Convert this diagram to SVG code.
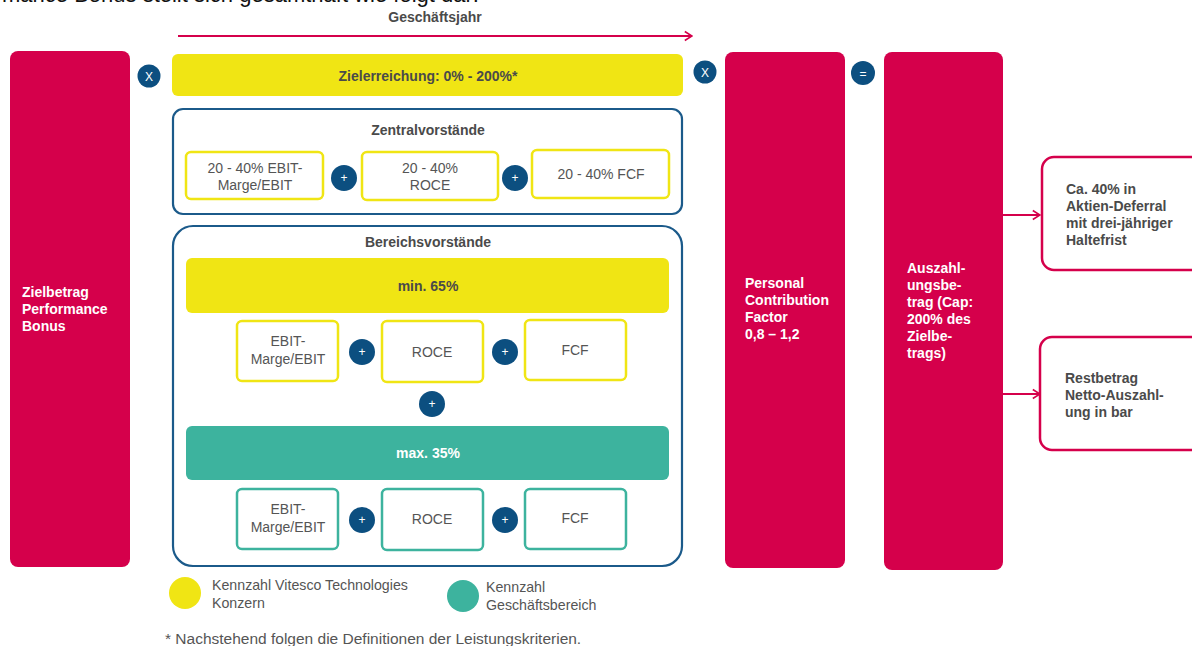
<svg xmlns="http://www.w3.org/2000/svg" width="1192" height="646" viewBox="0 0 1192 646">
<defs>
<style>
.red{fill:#D5004B}
.wt{fill:#fff;font-family:"Liberation Sans",Arial,sans-serif;font-weight:bold;font-size:14px}
.gb{fill:#4a4a4a;font-family:"Liberation Sans",Arial,sans-serif;font-weight:bold;font-size:14px}
.gr{fill:#555;font-family:"Liberation Sans",Arial,sans-serif;font-size:14px}
.op{fill:#0C4F80}
.opt{fill:#fff;font-family:"Liberation Sans",Arial,sans-serif;font-size:12px;text-anchor:middle}
.yb{fill:#fff;stroke:#F0E514;stroke-width:2.5}
.tb{fill:#fff;stroke:#3DB39E;stroke-width:2.5}
.frame{fill:#fff;stroke:#1B5A8A;stroke-width:2.2}
.out{fill:#fff;stroke:#D5004B;stroke-width:2.5}
.c{text-anchor:middle}
.conn{stroke:#D5004B;stroke-width:2;fill:none}
</style>
<marker id="ah" viewBox="0 0 10 12" refX="9" refY="6" markerWidth="9" markerHeight="12" markerUnits="userSpaceOnUse" orient="auto">
<path d="M1,1 L9,6 L1,11" fill="none" stroke="#D5004B" stroke-width="1.8"/>
</marker>
</defs>
<rect width="1192" height="646" fill="#fff"/>
<text x="2" y="2" font-family="'Liberation Sans',Arial,sans-serif" font-size="22" fill="#111">mance Bonus stellt sich gesamthaft wie folgt dar:</text>

<g id="timeline">
<text x="435" y="22" class="gb c">Geschäftsjahr</text>
</g>

<g id="connectors">
<line x1="178" y1="36" x2="692" y2="36" class="conn" marker-end="url(#ah)"/>
<line x1="1003" y1="215" x2="1040" y2="215" class="conn" marker-end="url(#ah)"/>
<line x1="1003" y1="394" x2="1040" y2="394" class="conn" marker-end="url(#ah)"/>
</g>

<g id="zielbetrag">
<rect x="10" y="51" width="120" height="516" rx="8" class="red"/>
<text class="wt" x="22" y="297">Zielbetrag</text>
<text class="wt" x="22" y="314">Performance</text>
<text class="wt" x="22" y="331">Bonus</text>
</g>

<g id="op-x1">
<circle cx="149" cy="76" r="11.5" class="op"/>
<text x="149" y="80.5" class="opt">X</text>
</g>

<g id="zielerreichung">
<rect x="172" y="54" width="511" height="42" rx="6" fill="#F0E514"/>
<text x="428" y="80.5" class="gb c">Zielerreichung: 0% - 200%*</text>
</g>

<g id="op-x2">
<circle cx="705" cy="72" r="11.5" class="op"/>
<text x="705" y="76.5" class="opt">X</text>
</g>

<g id="zentral">
<rect x="173" y="109" width="509" height="105" rx="10" class="frame"/>
<text x="428" y="135" class="gb c">Zentralvorstände</text>
<rect x="186" y="152" width="137" height="47" rx="5" class="yb"/>
<text x="255" y="173" class="gr c">20 - 40% EBIT-</text>
<text x="255" y="190" class="gr c">Marge/EBIT</text>
<circle cx="344" cy="178" r="13" class="op"/>
<text x="344" y="182" class="opt">+</text>
<rect x="362" y="152" width="136" height="48" rx="5" class="yb"/>
<text x="430" y="173" class="gr c">20 - 40%</text>
<text x="430" y="190" class="gr c">ROCE</text>
<circle cx="515" cy="178" r="13" class="op"/>
<text x="515" y="182" class="opt">+</text>
<rect x="532" y="150" width="137" height="48" rx="5" class="yb"/>
<text x="601" y="179" class="gr c">20 - 40% FCF</text>
</g>

<g id="bereich">
<rect x="173" y="226" width="509" height="340" rx="20" class="frame"/>
<text x="428" y="247" class="gb c">Bereichsvorstände</text>
<rect x="186" y="258" width="483" height="55" rx="6" fill="#F0E514"/>
<text x="428" y="291" class="gb c">min. 65%</text>
<rect x="237" y="321" width="101" height="60" rx="5" class="yb"/>
<text x="288" y="346" class="gr c">EBIT-</text>
<text x="288" y="364" class="gr c">Marge/EBIT</text>
<circle cx="362" cy="352" r="13" class="op"/>
<text x="362" y="356" class="opt">+</text>
<rect x="382" y="321" width="101" height="61" rx="5" class="yb"/>
<text x="432" y="357" class="gr c">ROCE</text>
<circle cx="505" cy="352" r="13" class="op"/>
<text x="505" y="356" class="opt">+</text>
<rect x="525" y="320" width="101" height="60" rx="5" class="yb"/>
<text x="575" y="355" class="gr c">FCF</text>
<circle cx="432" cy="404" r="13" class="op"/>
<text x="432" y="408" class="opt">+</text>
<rect x="186" y="426" width="483" height="54" rx="6" fill="#3DB39E"/>
<text x="428" y="458" class="wt c">max. 35%</text>
<rect x="237" y="489" width="101" height="60" rx="5" class="tb"/>
<text x="288" y="514" class="gr c">EBIT-</text>
<text x="288" y="532" class="gr c">Marge/EBIT</text>
<circle cx="362" cy="520" r="13" class="op"/>
<text x="362" y="524" class="opt">+</text>
<rect x="382" y="489" width="101" height="61" rx="5" class="tb"/>
<text x="432" y="524" class="gr c">ROCE</text>
<circle cx="505" cy="520" r="13" class="op"/>
<text x="505" y="524" class="opt">+</text>
<rect x="525" y="489" width="101" height="60" rx="5" class="tb"/>
<text x="575" y="523" class="gr c">FCF</text>
</g>

<g id="legend">
<circle cx="185" cy="593" r="16" fill="#F0E514"/>
<text x="212" y="590" class="gr" style="font-size:14.2px">Kennzahl Vitesco Technologies</text>
<text x="212" y="608" class="gr" style="font-size:14.2px">Konzern</text>
<circle cx="463" cy="596" r="16" fill="#3DB39E"/>
<text x="486" y="592" class="gr" style="font-size:14.2px">Kennzahl</text>
<text x="486" y="610" class="gr" style="font-size:14.2px">Geschäftsbereich</text>
<text x="165" y="644" class="gr" style="font-size:15.5px">* Nachstehend folgen die Definitionen der Leistungskriterien.</text>
</g>

<g id="pcf">
<rect x="725" y="52" width="120" height="516" rx="8" class="red"/>
<text class="wt" x="745" y="288">Personal</text>
<text class="wt" x="745" y="305">Contribution</text>
<text class="wt" x="745" y="322">Factor</text>
<text class="wt" x="745" y="339">0,8 – 1,2</text>
</g>

<g id="op-eq">
<circle cx="863" cy="73" r="12" class="op"/>
<text x="863" y="77.5" class="opt">=</text>
</g>

<g id="auszahlung">
<rect x="884" y="52" width="119" height="518" rx="8" class="red"/>
<text class="wt" x="907" y="273">Auszahl-</text>
<text class="wt" x="907" y="290">ungsbe-</text>
<text class="wt" x="907" y="307">trag (Cap:</text>
<text class="wt" x="907" y="324">200% des</text>
<text class="wt" x="907" y="341">Zielbe-</text>
<text class="wt" x="907" y="358">trags)</text>
</g>

<g id="deferral">
<rect x="1042" y="157" width="170" height="113" rx="12" class="out"/>
<text class="gb" x="1066" y="194">Ca. 40% in</text>
<text class="gb" x="1066" y="211">Aktien-Deferral</text>
<text class="gb" x="1066" y="228">mit drei-jähriger</text>
<text class="gb" x="1066" y="245">Haltefrist</text>
</g>

<g id="rest">
<rect x="1040" y="337" width="172" height="113" rx="12" class="out"/>
<text class="gb" x="1065" y="383">Restbetrag</text>
<text class="gb" x="1065" y="400">Netto-Auszahl-</text>
<text class="gb" x="1065" y="417">ung in bar</text>
</g>
</svg>
